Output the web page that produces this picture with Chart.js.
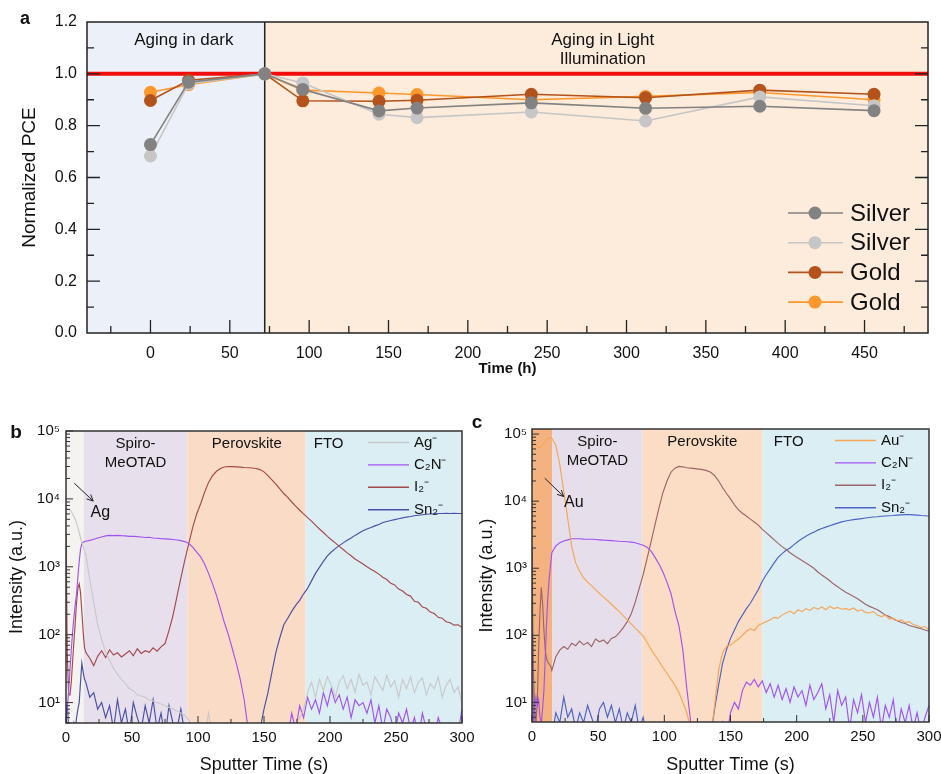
<!DOCTYPE html>
<html>
<head>
<meta charset="utf-8">
<script src="https://cdn.jsdelivr.net/npm/chart.js@4.4.1/dist/chart.umd.min.js"></script>
<style>
  body { margin: 0; background: #fff; width: 941px; height: 774px; position: relative; overflow: hidden; }
  canvas { position: absolute; }
</style>
</head>
<body>
<canvas id="chartA" width="941" height="390" style="left:0;top:0"></canvas>
<canvas id="chartB" width="490" height="384" style="left:0;top:390px"></canvas>
<canvas id="chartC" width="471" height="384" style="left:470px;top:390px"></canvas>
<script>
// ---- panel a : normalized PCE vs aging time ----
var agingHours = [0, 24, 72, 96, 144, 168, 240, 312, 384, 456];
var silverDark  = [0.727, 0.968, 1.0, 0.940, 0.857, 0.868, 0.888, 0.867, 0.875, 0.858];
var silverLight = [0.683, 0.962, 1.0, 0.965, 0.844, 0.831, 0.853, 0.818, 0.911, 0.877];
var goldDark    = [0.897, 0.975, 1.0, 0.896, 0.894, 0.898, 0.921, 0.908, 0.937, 0.921];
var goldLight   = [0.929, 0.958, 1.0, 0.937, 0.926, 0.920, 0.900, 0.913, 0.928, 0.900];
var darkPhaseEnd = 72;      // h, end of dark aging
var refLevel = 1.0;

// ---- panels b / c : ToF-SIMS depth profiles ----
var sputterTime = [0,1,2,3,4,5,6,7,8,9,10,11,12,13,14,
  15,18,21,24,27,30,33,36,39,42,45,48,51,54,57,
  60,63,66,69,72,75,78,81,84,87,90,93,96,99,102,105,108,111,114,117,
  120,123,126,129,132,135,138,141,144,147,150,153,156,159,162,165,168,171,174,177,
  180,183,186,189,192,195,198,201,204,207,210,213,216,219,222,225,228,231,234,237,
  240,243,246,249,252,255,258,261,264,267,270,273,276,279,282,285,288,291,294,297,300];

// panel b (silver electrode)
var agB = [7000,7200,7000,6800,6500,6000,5500,5000,4400,3800,3200,2700,2300,2000,1700,
  1500,650,300,140,85,55,42,32,26,22,19,16,15,13,12.5,
  12,11,10.5,10,9.5,9,8.5,8,7.5,7,6.5,5.5,4.5,4,3.5,3,7,3,2.5,2.5,
  3,2.5,3,2.5,3,4,3,2.5,3,2.5,3,3,2.5,3,3.5,3,4,4.5,5,6,
  8,14,20,12,22,15,24,18,12,20,25,16,22,14,26,18,20,13,24,19,
  15,25,17,21,12,22,16,24,14,20,23,13,19,16,24,12,18,22,14,17,10];
var c2nB = [5,8,15,30,60,110,180,280,400,700,1200,1800,2200,2300,2350,
  2380,2450,2550,2650,2750,2850,2900,2880,2900,2870,2850,2800,2820,2780,2750,
  2700,2720,2650,2630,2600,2580,2550,2520,2480,2430,2350,2200,1950,1650,1400,1100,800,560,380,240,
  150,100,62,38,22,11,4,2,2,2,2,2,2,2,2,2.5,3,7,4,9,
  6,12,8,11,7,14,9,16,10,13,8,12,6,11,9,10,7,11,5,9,
  4,8,6,3.5,7,5,8,4,6,3,7,4,5,3,6,4,3,5,4,3.5,8];
var i2B = [3000,50,13,13,20,40,80,150,300,480,560,420,220,110,65,
  55,45,35,48,58,46,60,50,54,47,52,58,49,62,53,
  58,55,64,57,66,74,115,190,360,680,1250,2200,3800,6000,8500,12500,17500,22000,25500,28000,
  29500,30000,29800,29600,29300,29000,28800,28500,28000,27000,25000,22000,19000,16500,14000,12000,10500,9000,7800,6800,
  6000,5300,4700,4100,3600,3200,2800,2500,2250,2000,1800,1600,1450,1300,1200,1100,1000,920,850,780,
  700,650,570,540,470,440,390,370,310,300,255,245,215,205,180,175,155,150,138,140,128];
var sn2B = [6,10,4,3,3,4,5,4,6,8,10,20,38,28,22,
  20,12,14,8,10,6,9,4,11,5,8,3.5,10,6,4,
  9,5,11,4,7,3,9,5,4,8,3.5,2,2,2,2,2,2,2,2,2,
  2,2,2,2,2,2,2,2,2,4,8,14,28,55,90,140,175,220,270,320,
  400,480,620,800,980,1200,1450,1650,1850,2050,2250,2450,2650,2900,3150,3400,3600,3800,4000,4200,
  4500,4650,4800,4950,5100,5250,5400,5500,5650,5750,5850,5950,6000,6050,6100,6100,6150,6100,6150,6100,6100];

// panel c (gold electrode)
var auC = [80000,76000,72000,69000,66000,64000,63000,65000,69000,73000,77000,81000,85000,88000,88000,
  86000,68000,35000,14000,5500,2100,1200,900,720,620,550,480,420,370,330,
  290,255,225,195,170,148,128,112,97,78,62,50,41,33,27,22,18,14,10,7,
  4,3,2.5,2,2.5,3,9,30,55,68,72,80,88,100,115,125,118,140,150,160,
  170,185,180,200,215,230,210,240,225,250,235,260,245,265,240,270,250,260,245,250,
  240,255,230,240,220,215,225,200,190,200,175,180,165,170,155,160,145,140,130,135,120];
var c2nC = [2,3,8,12,9,11,6,5,8,15,45,150,380,700,1100,
  1700,2150,2400,2550,2650,2750,2750,2750,2720,2700,2700,2680,2650,2620,2600,
  2580,2550,2520,2500,2480,2450,2400,2300,2200,2050,1800,1450,1150,870,620,420,230,140,60,16,
  5,2.5,2,2,2,2,2,2.5,5,3,7,10,8,15,20,18,22,17,21,14,
  19,12,18,11,16,10,17,12,15,9,18,11,14,19,8,13,5,15,9,12,
  4,11,7,13,5,10,6,12,4,9,6,11,3.5,8,5,9,4,7,3.5,6,9];
var i2C = [2000,30,8,5,10,60,220,520,300,120,60,45,40,37,35,
  30,48,60,68,62,76,70,82,72,78,68,88,80,85,75,
  90,95,110,130,160,210,310,500,800,1400,2500,4500,8000,13500,20000,27000,31000,33000,32500,31500,
  31000,30500,30000,29500,28500,27000,24000,20000,16000,13000,10800,8800,7400,6600,6000,5400,4900,4400,3800,3400,
  3000,2650,2350,2100,1900,1700,1550,1420,1300,1200,1100,1000,880,790,720,650,580,530,480,440,
  410,380,350,320,290,270,255,240,220,200,190,175,165,155,150,140,135,130,125,120,115];
var sn2C = [300,5,3,2,2,3,2,3,2,2,3,2,2.5,3,4,
  3,7,5,12,6,8,4,7,5,9,6,4,8,10,6,
  9,5,8,4,7,5,9,4,6,3,2.5,2,2,2,2,2,2,2,2,2,
  2,2,2,2,2,3,8,18,38,61,90,120,160,200,250,300,380,480,640,800,
  980,1200,1450,1650,1850,2000,2250,2500,2750,3000,3250,3450,3700,3900,4100,4300,4500,4700,4900,5050,
  5200,5300,5400,5500,5600,5700,5800,5850,5950,6000,6050,6100,6200,6250,6300,6300,6250,6200,6100,6050,6000];

// layer boundaries (s)
var layersB = [0, 13.4, 92, 181.5, 300];
var layersC = [0, 15.4, 83.4, 174, 300];

var FONT = "'Liberation Sans', Arial, Helvetica, sans-serif";
Chart.defaults.font.family = FONT;
Chart.defaults.color = '#111';

function drawArrow(ctx, x0, y0, x1, y1) {
  var ang = Math.atan2(y1 - y0, x1 - x0), h = 7;
  ctx.beginPath();
  ctx.moveTo(x0, y0); ctx.lineTo(x1, y1);
  ctx.moveTo(x1 - h * Math.cos(ang - 0.45), y1 - h * Math.sin(ang - 0.45));
  ctx.lineTo(x1, y1);
  ctx.lineTo(x1 - h * Math.cos(ang + 0.45), y1 - h * Math.sin(ang + 0.45));
  ctx.stroke();
}

// ---------------- panel a ----------------
var seriesA = [
  { name: 'Silver', values: silverDark,  color: '#828282' },
  { name: 'Silver', values: silverLight, color: '#C6C6C6' },
  { name: 'Gold',   values: goldDark,    color: '#B3531B' },
  { name: 'Gold',   values: goldLight,   color: '#FF982C' }
];

var panelA = {
  id: 'panelA',
  beforeDatasetsDraw: function (chart) {
    var ctx = chart.ctx, a = chart.chartArea, x = chart.scales.x, y = chart.scales.y;
    var xs = x.getPixelForValue(darkPhaseEnd);
    ctx.save();
    ctx.fillStyle = '#ECF1F9';
    ctx.fillRect(a.left, a.top, xs - a.left, a.height);
    ctx.fillStyle = '#FDEBDC';
    ctx.fillRect(xs, a.top, a.right - xs, a.height);
    ctx.strokeStyle = '#222'; ctx.lineWidth = 1.5;
    ctx.beginPath(); ctx.moveTo(xs, a.top); ctx.lineTo(xs, a.bottom); ctx.stroke();
    var yr = y.getPixelForValue(refLevel);
    ctx.strokeStyle = '#F20D0D'; ctx.lineWidth = 4;
    ctx.beginPath(); ctx.moveTo(a.left, yr); ctx.lineTo(a.right, yr); ctx.stroke();
    ctx.restore();
  },
  afterDatasetsDraw: function (chart) {
    var ctx = chart.ctx, a = chart.chartArea, x = chart.scales.x, y = chart.scales.y;
    ctx.save();
    ctx.strokeStyle = '#222'; ctx.lineWidth = 1.5;
    ctx.strokeRect(a.left, a.top, a.width, a.height);
    ctx.lineWidth = 1.3;
    ctx.beginPath();
    for (var v = -25; v <= x.max; v += 25) {
      if (v < x.min) continue;
      var px = x.getPixelForValue(v), len = (v % 50 === 0) ? 13 : 7;
      ctx.moveTo(px, a.bottom); ctx.lineTo(px, a.bottom - len);
    }
    for (var k = 1; k < 12; k++) {
      var py = y.getPixelForValue(k / 10), l2 = (k % 2 === 0) ? 13 : 7;
      ctx.moveTo(a.left, py); ctx.lineTo(a.left + l2, py);
      ctx.moveTo(a.right, py); ctx.lineTo(a.right - l2, py);
    }
    ctx.stroke();

    ctx.fillStyle = '#111';
    ctx.textAlign = 'center'; ctx.textBaseline = 'middle';
    ctx.font = '17px ' + FONT;
    ctx.fillText('Aging in dark', x.getPixelForValue(21), a.top + 18);
    ctx.fillText('Aging in Light', x.getPixelForValue(285), a.top + 18);
    ctx.fillText('Illumination', x.getPixelForValue(285), a.top + 37);

    // legend
    ctx.font = '24px ' + FONT;
    ctx.textAlign = 'left';
    seriesA.forEach(function (s, i) {
      var yy = a.top + 191 + i * 29.7;
      ctx.strokeStyle = s.color; ctx.lineWidth = 1.6;
      ctx.beginPath(); ctx.moveTo(a.right - 140, yy); ctx.lineTo(a.right - 85, yy); ctx.stroke();
      ctx.fillStyle = s.color;
      ctx.beginPath(); ctx.arc(a.right - 113, yy, 6.5, 0, Math.PI * 2); ctx.fill();
      ctx.fillStyle = '#111';
      ctx.fillText(s.name, a.right - 78, yy + 1);
    });

    ctx.font = 'bold 18px ' + FONT;
    ctx.textAlign = 'center';
    ctx.fillText('a', 25, 19);
    ctx.restore();
  }
};

new Chart(document.getElementById('chartA'), {
  type: 'line',
  data: {
    datasets: seriesA.map(function (s) {
      return {
        label: s.name,
        data: s.values.map(function (v, i) { return { x: agingHours[i], y: v }; }),
        borderColor: s.color, backgroundColor: s.color,
        borderWidth: 1.6, pointRadius: 6.5, pointBorderWidth: 0,
        pointBackgroundColor: s.color, tension: 0, fill: false
      };
    })
  },
  options: {
    responsive: false, animation: false, events: [],
    layout: { padding: { left: 0, top: 22, right: 13, bottom: 0 } },
    plugins: { legend: { display: false }, tooltip: { enabled: false } },
    scales: {
      x: {
        type: 'linear', min: -40, max: 490,
        grid: { display: false, drawTicks: false }, border: { display: false },
        ticks: { stepSize: 50, includeBounds: false, padding: 11, font: { size: 16 } },
        title: { display: true, text: 'Time (h)', font: { size: 15, weight: 'bold', lineHeight: 1 }, padding: { top: 0, bottom: 14 } },
        afterFit: function (s) { s.height = 57; s.paddingLeft = 0; s.paddingRight = 0; }
      },
      y: {
        type: 'linear', min: 0, max: 1.2,
        grid: { display: false, drawTicks: false }, border: { display: false },
        ticks: { stepSize: 0.2, padding: 10, font: { size: 16 }, callback: function (v) { return v.toFixed(1); } },
        title: { display: true, text: 'Normalized PCE', font: { size: 19, lineHeight: 1 }, padding: { top: 20, bottom: 0 } },
        afterFit: function (s) { s.width = 87; s.paddingTop = 0; s.paddingBottom = 0; }
      }
    }
  },
  plugins: [panelA]
});

// ---------------- panels b / c ----------------
var SUP = { '0': '\u2070', '1': '\u00B9', '2': '\u00B2', '3': '\u00B3', '4': '\u2074', '5': '\u2075' };
function powLabel(v) {
  var e = Math.log10(v);
  if (Math.abs(e - Math.round(e)) > 1e-6) return '';
  return '10' + String(Math.round(e)).split('').map(function (c) { return SUP[c]; }).join('');
}
function isWholeSignificand(v) {
  var m = v / Math.pow(10, Math.floor(Math.log10(v) + 1e-9));
  return Math.abs(m - Math.round(m)) < 1e-6;
}

function sputterPlugin(cfg) {
  return {
    id: 'sputter' + cfg.letter,
    beforeDatasetsDraw: function (chart) {
      var ctx = chart.ctx, a = chart.chartArea, x = chart.scales.x;
      ctx.save();
      for (var i = 0; i < cfg.layers.length - 1; i++) {
        var x0 = x.getPixelForValue(cfg.layers[i]), x1 = x.getPixelForValue(cfg.layers[i + 1]);
        ctx.fillStyle = cfg.layerColors[i];
        ctx.fillRect(x0, a.top, x1 - x0, a.height);
      }
      ctx.restore();
    },
    afterDatasetsDraw: function (chart) {
      var ctx = chart.ctx, a = chart.chartArea, x = chart.scales.x, y = chart.scales.y;
      ctx.save();
      ctx.strokeStyle = '#333'; ctx.lineWidth = 1.5;
      ctx.strokeRect(a.left, a.top, a.width, a.height);
      ctx.lineWidth = 1;
      ctx.beginPath();
      for (var v = 0; v <= 300; v += 25) {
        var px = x.getPixelForValue(v), len = (v % 50 === 0) ? 7 : 4;
        ctx.moveTo(px, a.bottom); ctx.lineTo(px, a.bottom - len);
      }
      y.ticks.forEach(function (t) {
        if (!isWholeSignificand(t.value)) return;
        var py = y.getPixelForValue(t.value), len = powLabel(t.value) ? 7 : 4;
        ctx.moveTo(a.left, py); ctx.lineTo(a.left + len, py);
      });
      ctx.stroke();

      ctx.fillStyle = '#111';
      ctx.textAlign = 'center'; ctx.textBaseline = 'middle';
      ctx.font = '15px ' + FONT;
      cfg.layerNames.forEach(function (n) {
        n.lines.forEach(function (s, k) { ctx.fillText(s, x.getPixelForValue(n.t), a.top + 13 + k * 18.5); });
      });

      // annotation arrow
      ctx.strokeStyle = '#222'; ctx.lineWidth = 1;
      var an = cfg.arrow;
      drawArrow(ctx, x.getPixelForValue(an.from[0]), y.getPixelForValue(an.from[1]),
                     x.getPixelForValue(an.to[0]), y.getPixelForValue(an.to[1]));
      ctx.font = '16px ' + FONT;
      ctx.fillText(an.text, x.getPixelForValue(an.at[0]), y.getPixelForValue(an.at[1]));

      // legend
      ctx.textAlign = 'left';
      ctx.font = '15px ' + FONT;
      cfg.series.forEach(function (s, i) {
        var yy = a.top + 11.5 + i * 22.4;
        ctx.strokeStyle = s.color; ctx.lineWidth = 1.4;
        ctx.beginPath(); ctx.moveTo(a.right - 94, yy); ctx.lineTo(a.right - 53, yy); ctx.stroke();
        ctx.fillStyle = '#111';
        ctx.fillText(s.name, a.right - 48, yy);
      });

      ctx.font = 'bold 19px ' + FONT;
      ctx.textAlign = 'center';
      ctx.fillText(cfg.letter, cfg.letterPos[0], cfg.letterPos[1]);
      ctx.restore();
    }
  };
}

function sputterChart(id, cfg) {
  return new Chart(document.getElementById(id), {
    type: 'line',
    data: {
      datasets: cfg.series.map(function (s) {
        return {
          label: s.name,
          data: s.values.map(function (v, i) { return { x: sputterTime[i], y: v }; }),
          borderColor: s.color, borderWidth: 1.15, pointRadius: 0, tension: 0, fill: false
        };
      })
    },
    options: {
      responsive: false, animation: false, events: [],
      layout: { padding: { left: 0, top: cfg.top, right: cfg.right, bottom: 0 } },
      plugins: { legend: { display: false }, tooltip: { enabled: false } },
      scales: {
        x: {
          type: 'linear', min: 0, max: 300,
          grid: { display: false, drawTicks: false }, border: { display: false },
          ticks: { stepSize: 50, padding: 6, font: { size: 15 } },
          title: { display: true, text: 'Sputter Time (s)', font: { size: 18, lineHeight: 1 }, padding: { top: 0, bottom: 0 } },
          afterFit: function (s) { s.height = cfg.xh; s.paddingLeft = 0; s.paddingRight = 0; }
        },
        y: {
          type: 'logarithmic', min: cfg.ymin, max: cfg.ymax,
          grid: { display: false, drawTicks: false }, border: { display: false },
          ticks: { autoSkip: false, padding: cfg.ypad, font: { size: 15 }, callback: powLabel },
          title: { display: true, text: 'Intensity (a.u.)', font: { size: 18, lineHeight: 1 }, padding: { top: cfg.ytitle, bottom: 0 } },
          afterFit: function (s) { s.width = cfg.yw; s.paddingTop = 0; s.paddingBottom = 0; }
        }
      }
    },
    plugins: [sputterPlugin(cfg)]
  });
}

sputterChart('chartB', {
  letter: 'b', letterPos: [16, 43],
  top: 41, right: 28, xh: 51, yw: 66, ypad: 6, ytitle: 8, ymin: 5, ymax: 1e5,
  layers: layersB,
  layerColors: ['#F4F3EF', '#E7DFEB', '#FADCC6', '#DAEEF3'],
  layerNames: [{ t: 52.7, lines: ['Spiro-', 'MeOTAD'] }, { t: 137, lines: ['Perovskite'] }, { t: 199, lines: ['FTO'] }],
  arrow: { from: [6.3, 17000], to: [20.6, 9300], at: [26, 6300], text: 'Ag' },
  series: [
    { name: 'Ag\u207B',        values: agB,  color: '#C9C9C9' },
    { name: 'C\u2082N\u207B',  values: c2nB, color: '#A352F2' },
    { name: 'I\u2082\u207B',   values: i2B,  color: '#A5484C' },
    { name: 'Sn\u2082\u207B',  values: sn2B, color: '#4B4FA6' }
  ]
});

sputterChart('chartC', {
  letter: 'c', letterPos: [7, 33],
  top: 39, right: 12, xh: 52, yw: 62, ypad: 5, ytitle: 8, ymin: 5.1, ymax: 1.19e5,
  layers: layersC,
  layerColors: ['#F3B27F', '#E6DEEA', '#FBDCC5', '#DAEEF3'],
  layerNames: [{ t: 49.4, lines: ['Spiro-', 'MeOTAD'] }, { t: 128.7, lines: ['Perovskite'] }, { t: 194, lines: ['FTO'] }],
  arrow: { from: [9.6, 22000], to: [24, 11700], at: [31.6, 9500], text: 'Au' },
  series: [
    { name: 'Au\u207B',        values: auC,  color: '#F5A657' },
    { name: 'C\u2082N\u207B',  values: c2nC, color: '#A352F2' },
    { name: 'I\u2082\u207B',   values: i2C,  color: '#9C6568' },
    { name: 'Sn\u2082\u207B',  values: sn2C, color: '#4C63C4' }
  ]
});
</script>
</body>
</html>
